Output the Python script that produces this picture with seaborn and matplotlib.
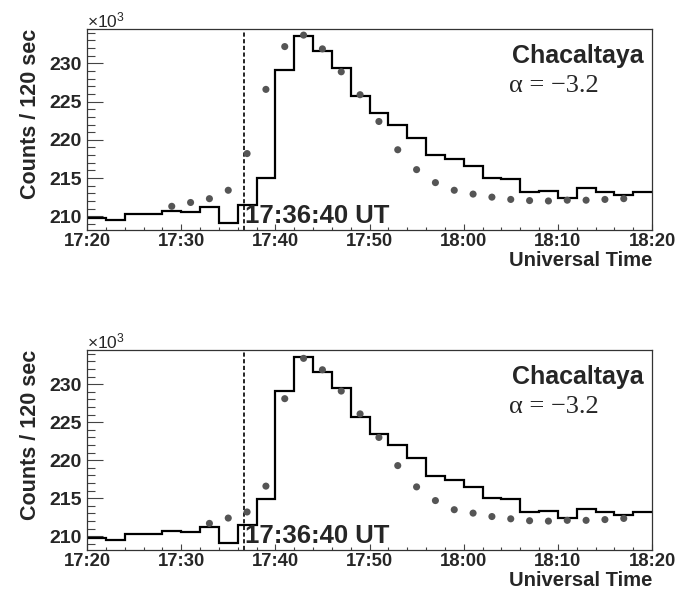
import numpy as np
import matplotlib
matplotlib.use("Agg")
import matplotlib.pyplot as plt
from matplotlib.ticker import MultipleLocator, FixedLocator
import seaborn as sns

# ---- data (counts in units of 10^3 per 120 s bin) ----
bin_edges_min = list(range(0, 62, 2))  # minutes after 17:20
counts = [209.8, 209.55, 210.3, 210.3, 210.75, 210.55, 211.2, 209.1, 211.5, 214.95,
          229.1, 233.55, 231.65, 229.45, 225.7, 223.45, 221.95, 220.3, 217.95, 217.45,
          216.55, 215.0, 214.9, 213.2, 213.35, 212.35, 213.65, 213.15, 212.75, 213.15]

top_model_bins = list(range(4, 29))
top_model = [211.3, 211.8, 212.3, 213.4, 218.2, 226.6, 232.2, 233.7, 231.9, 228.9,
             225.9, 222.4, 218.7, 216.1, 214.4, 213.4, 212.9, 212.5, 212.2, 212.05,
             212.0, 212.1, 212.1, 212.2, 212.3]

bottom_model_bins = list(range(6, 29))
bottom_model = [211.7, 212.4, 213.2, 216.6, 228.1, 233.4, 231.9, 229.1, 226.1, 223.0,
                219.3, 216.5, 214.7, 213.5, 213.05, 212.6, 212.3, 212.05, 212.0, 212.1,
                212.1, 212.2, 212.35]

xtick_pos = [0, 10, 20, 30, 40, 50, 60]
xtick_labels = ["17:20", "17:30", "17:40", "17:50", "18:00", "18:10", "18:20"]
ytick_pos = [210, 215, 220, 225, 230]
onset_min = 16 + 40 / 60.0  # 17:36:40
station = "Chacaltaya"
alpha_text = "α = −3.2"
onset_text = "17:36:40 UT"
scale_text = r"$\times\mathrm{10}^{\mathrm{3}}$"

sns.set_theme(style="white")
plt.rcParams["font.family"] = ["Liberation Sans", "DejaVu Sans"]
plt.rcParams["mathtext.fontset"] = "custom"
plt.rcParams["mathtext.rm"] = "Liberation Sans"
plt.rcParams["mathtext.it"] = "Liberation Sans:italic"
plt.rcParams["mathtext.bf"] = "Liberation Sans:bold"

W, H = 686, 593
fig = plt.figure(figsize=(W / 100, H / 100), dpi=100)

def px_axes(left, top, right, bottom):
    return fig.add_axes([left / W, 1 - bottom / H, (right - left) / W, (bottom - top) / H])

panels = [(29, 230, top_model_bins, top_model), (350, 550, bottom_model_bins, bottom_model)]

for top, bottom, mbins, mvals in panels:
    ax = px_axes(87, top, 652, bottom)
    ax.stairs(counts, bin_edges_min, color="black", lw=1.6, baseline=None)
    mx = [2 * b + 1 for b in mbins]
    sns.scatterplot(x=mx, y=mvals, ax=ax, color="#555555", s=26, edgecolor="none", zorder=3)
    ax.axvline(onset_min, color="black", lw=1.2, ls=(0, (2.5, 1.5)))
    ax.set_xlim(0, 60)
    ax.set_ylim(208.2, 234.5)
    ax.xaxis.set_major_locator(FixedLocator(xtick_pos))
    ax.set_xticklabels(xtick_labels)
    ax.xaxis.set_minor_locator(MultipleLocator(2))
    ax.yaxis.set_major_locator(FixedLocator(ytick_pos))
    ax.set_yticklabels([str(v) for v in ytick_pos])
    ax.yaxis.set_minor_locator(MultipleLocator(1))
    ax.tick_params(axis="y", which="major", direction="in", length=11.5, width=0.8,
                   color="#444444", labelsize=14, pad=4, left=True, right=False)
    ax.tick_params(axis="y", which="minor", direction="in", length=5.8, width=0.8,
                   color="#444444", left=True, right=False)
    ax.tick_params(axis="x", which="major", direction="in", length=4.5, width=0.8,
                   color="#444444", labelsize=13.3, pad=2, bottom=True, top=False)
    ax.tick_params(axis="x", which="minor", direction="in", length=2.3, width=0.8,
                   color="#444444", bottom=True, top=False)
    for lab in ax.get_xticklabels() + ax.get_yticklabels():
        lab.set_fontweight("bold")
    for s in ax.spines.values():
        s.set_visible(True)
        s.set_color("#333333")
        s.set_linewidth(0.9)
    ax.set_ylabel("Counts / 120 sec", fontsize=15.5, fontweight="bold", loc="top", labelpad=6)
    ax.set_xlabel("Universal Time", fontsize=14.6, fontweight="bold", loc="right", labelpad=1)
    ax.text(0.985, 0.865, station, transform=ax.transAxes, ha="right", va="center",
            fontsize=18, fontweight="bold")
    ax.text(0.747, 0.715, alpha_text, transform=ax.transAxes, ha="left", va="center",
            fontsize=19, family=["Liberation Serif", "DejaVu Serif"])
    ax.text(onset_min + 0.1, 208.45, onset_text, ha="left", va="bottom",
            fontsize=18.5, fontweight="bold")
    fig.text(87 / W, 1 - (top - 2) / H, scale_text, ha="left", va="baseline", fontsize=12.5)

fig.savefig("out.png", dpi=100)
